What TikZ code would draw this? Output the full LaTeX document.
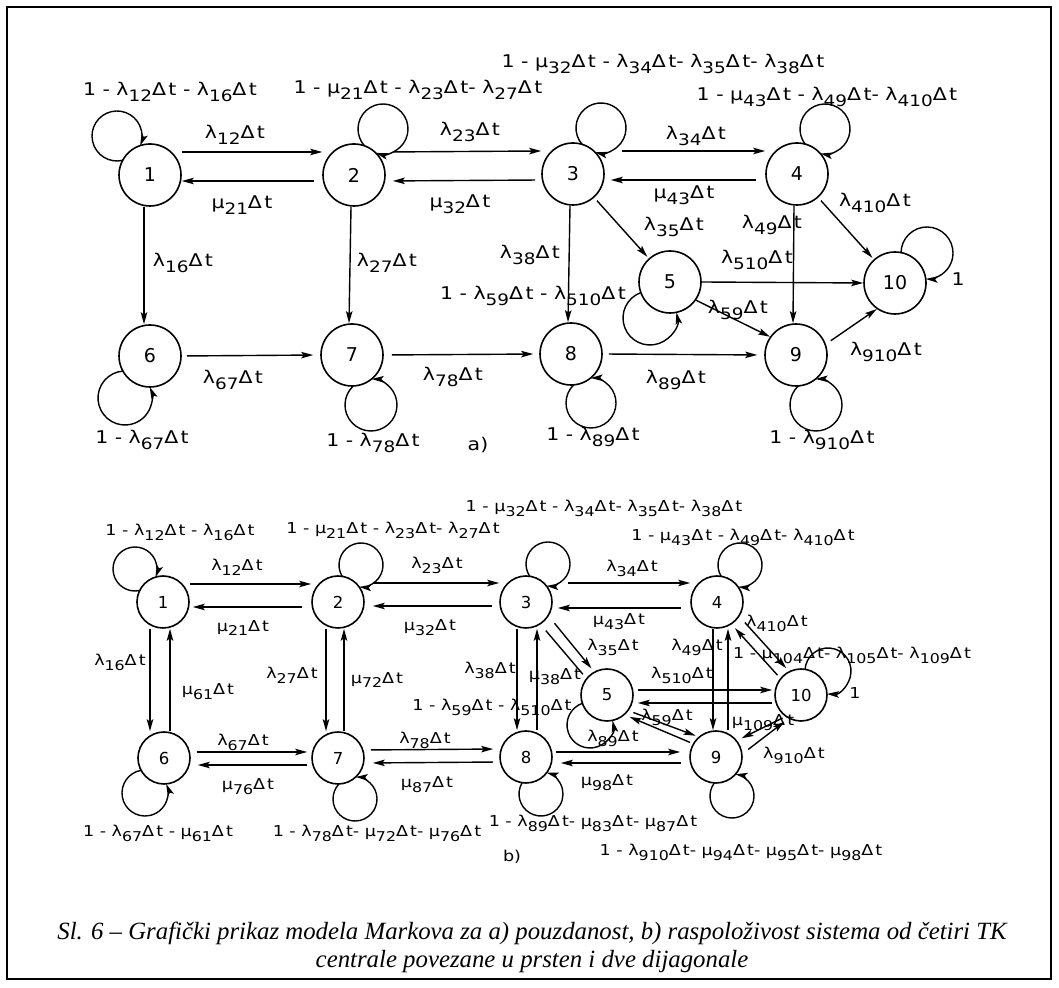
\documentclass[tikz,border=0pt]{standalone}
\usepackage{fontspec}
\setmainfont{DejaVu Sans}
\newfontfamily\capfont{Liberation Serif}
\usetikzlibrary{arrows.meta,calc}
\newcommand\sbx[1]{\raisebox{-0.6ex}{\scalebox{0.9}{#1}}}
\newcommand\lamt[1]{λ\sbx{#1}Δ\kern0.12em t}
\newcommand\mut[1]{μ\sbx{#1}Δ\kern0.12em t}
\newcommand\T[1]{\scalebox{1.17}[1]{#1}}
\newcommand\sloop[6]{%
  \pgfmathsetmacro\sldd{sqrt((#2)*(#2)+(#3)*(#3))}%
  \pgfmathsetmacro\slphi{atan2(-(#3),-(#2))}%
  \pgfmathsetmacro\slal{acos(((#4)*(#4)-(#6)*(#6)+\sldd*\sldd)/(2*\sldd*(#4)))}%
  \ifnum#5=1
    \pgfmathsetmacro\slsa{\slphi-\slal}\pgfmathsetmacro\slea{\slphi+\slal-360}%
  \else
    \pgfmathsetmacro\slsa{\slphi+\slal}\pgfmathsetmacro\slea{\slphi-\slal+360}%
  \fi
  \draw[arr] ($(#1)+(#2,#3)+(\slsa:#4)$) arc[start angle=\slsa, end angle=\slea, radius=#4];%
}
\begin{document}
\begin{tikzpicture}[x=1pt,y=1pt,
  st/.style={circle,draw,line width=1.6pt,inner sep=0pt,minimum size=62pt,font=\fontsize{19}{19}\selectfont},
  sb/.style={st,minimum size=52pt,font=\fontsize{16.5}{16.5}\selectfont},
  arr/.style={line width=1.4pt,-{Stealth[length=12pt,width=6.5pt,inset=2.5pt]}},
  pl/.style={line width=1.4pt},
  la/.style={inner sep=0pt,font=\fontsize{17.5}{17.5}\selectfont},
  lb/.style={inner sep=0pt,font=\fontsize{15}{15}\selectfont}]
\useasboundingbox (0,0) rectangle (1059,987);
\draw[line width=1.2pt] (7,8) rectangle (1051,980);

% ---------------- part a) ----------------
\node[st] (a1) at (150,812) {1};
\node[st] (a2) at (354,812) {2};
\node[st] (a3) at (573,813) {3};
\node[st] (a4) at (797,813) {4};
\node[st] (a5) at (670,705) {5};
\node[st] (a10) at (895,704) {10};
\node[st] (a6) at (150,631) {6};
\node[st] (a7) at (352,632) {7};
\node[st] (a8) at (571,633) {8};
\node[st] (a9) at (796,632) {9};

\draw[arr] ([yshift=23pt]a1.east) -- ([yshift=23pt]a2.west);
\draw[arr,shorten <=8pt] ([yshift=-6pt]a2.west) -- ([yshift=-6pt]a1.east);
\draw[arr,shorten <=7pt] ([yshift=23pt]a2.east) -- ([yshift=23pt]a3.west);
\draw[arr,shorten <=6pt,shorten >=7pt] ([yshift=-6pt]a3.west) -- ([yshift=-6pt]a2.east);
\draw[arr,shorten <=17pt] ([yshift=23pt]a3.east) -- ([yshift=23pt]a4.west);
\draw[arr,shorten <=9pt,shorten >=6pt] ([yshift=-6pt]a4.west) -- ([yshift=-6pt]a3.east);
\draw[arr] ([xshift=-6pt]a1.south) -- ([xshift=-6pt]a6.north);
\draw[arr] ([xshift=-3pt]a2.south) -- ([xshift=-3pt]a7.north);
\draw[arr] ([xshift=-3pt]a3.south) -- ([xshift=-3pt]a8.north);
\draw[arr] ([xshift=-3pt]a4.south) -- ([xshift=-3pt]a9.north);
\draw[arr,shorten <=4pt,shorten >=2pt] (a3) -- (a5);
\draw[arr,shorten <=4pt,shorten >=2pt] (a4) -- (a10);
\draw[arr] (a5.east) -- (a10.west);
\draw[arr] (a5.-35) -- (a9.145);
\draw[arr,shorten <=6pt] (a9.20) -- (a10.235);
\draw[arr,shorten <=5pt,shorten >=7pt] (a6.east) -- (a7.west);
\draw[arr,shorten <=8pt,shorten >=6pt] (a7.east) -- (a8.west);
\draw[arr,shorten <=6pt,shorten >=7pt] (a8.east) -- (a9.west);

\sloop{a1}{-33}{39}{25}{1}{31}
\sloop{a2}{29}{46}{25}{1}{31}
\sloop{a3}{28}{46}{25}{1}{31}
\sloop{a4}{28}{45}{25}{1}{31}
\sloop{a10}{32}{30}{26}{1}{31}
\sloop{a5}{-20}{-36}{27}{0}{31}
\sloop{a6}{-25}{-42}{27}{0}{31}
\sloop{a7}{19}{-50}{26}{0}{31}
\sloop{a8}{20}{-49}{25}{0}{31}
\sloop{a9}{20}{-50}{26}{0}{31}

\node[la] (l1) at (170,895) {\T{1 - \lamt{12} - \lamt{16}}};
\node[la] (l2) at (418,897) {\T{1 - \mut{21} - \lamt{23}- \lamt{27}}};
\node[la] (l3) at (663,923) {\T{1 - \mut{32} - \lamt{34}- \lamt{35}- \lamt{38}}};
\node[la] (l4) at (827,890) {\T{1 - \mut{43} - \lamt{49}- \lamt{410}}};
\node[la] (l5) at (235,852) {\T{\lamt{12}}};
\node[la] (l6) at (242,782) {\T{\mut{21}}};
\node[la] (l7) at (470,855) {\T{\lamt{23}}};
\node[la] (l8) at (460,783) {\T{\mut{32}}};
\node[la] (l9) at (696,851) {\T{\lamt{34}}};
\node[la] (l10) at (684,792) {\T{\mut{43}}};
\node[la] (l11) at (183,724) {\T{\lamt{16}}};
\node[la] (l12) at (387,724) {\T{\lamt{27}}};
\node[la] (l13) at (530,732) {\T{\lamt{38}}};
\node[la] (l14) at (674,760) {\T{\lamt{35}}};
\node[la] (l15) at (772,762) {\T{\lamt{49}}};
\node[la] (l16) at (875,784) {\T{\lamt{410}}};
\node[la] (l17) at (757,727) {\T{\lamt{510}}};
\node[la] (l18) at (958,708) {\T{1}};
\node[la] (l19) at (738,677) {\T{\lamt{59}}};
\node[la] (l20) at (886,635) {\T{\lamt{910}}};
\node[la] (l21) at (533,691) {\T{1 - \lamt{59} - \lamt{510}}};
\node[la] (l22) at (233,607) {\T{\lamt{67}}};
\node[la] (l23) at (453,610) {\T{\lamt{78}}};
\node[la] (l24) at (676,607) {\T{\lamt{89}}};
\node[la] (l25) at (142,547) {\T{1 - \lamt{67}}};
\node[la] (l26) at (373,544) {\T{1 - \lamt{78}}};
\node[la] (l27) at (593,550) {\T{1 - \lamt{89}}};
\node[la] (l28) at (822,547) {\T{1 - \lamt{910}}};
\node[la] (l29) at (478,542) {\T{a)}};

% ---------------- part b) ----------------
\node[sb] (b1) at (163,385) {1};
\node[sb] (b2) at (338,385) {2};
\node[sb] (b3) at (526,385) {3};
\node[sb] (b4) at (717,385) {4};
\node[sb] (b5) at (607,292) {5};
\node[sb] (b10) at (801,292) {10};
\node[sb] (b6) at (164,229) {6};
\node[sb] (b7) at (338,229) {7};
\node[sb] (b8) at (526,230) {8};
\node[sb] (b9) at (716,230) {9};

\draw[arr] ([yshift=18pt]b1.east) -- ([yshift=18pt]b2.west);
\draw[arr,shorten <=9pt,shorten >=3pt] ([yshift=-5pt]b2.west) -- ([yshift=-5pt]b1.east);
\draw[arr,shorten <=8pt] ([yshift=19pt]b2.east) -- ([yshift=19pt]b3.west);
\draw[arr,shorten <=7pt,shorten >=8pt] ([yshift=-4pt]b3.west) -- ([yshift=-4pt]b2.east);
\draw[arr,shorten <=15pt] ([yshift=19pt]b3.east) -- ([yshift=19pt]b4.west);
\draw[arr,shorten <=9pt,shorten >=5pt] ([yshift=-6pt]b4.west) -- ([yshift=-6pt]b3.east);
\draw[arr] ([xshift=-13pt]b1.south) -- ([xshift=-14pt]b6.north);
\draw[arr] ([xshift=6pt]b6.north) -- ([xshift=7pt]b1.south);
\draw[arr] ([xshift=-12pt]b2.south) -- ([xshift=-12pt]b7.north);
\draw[arr] ([xshift=6pt]b7.north) -- ([xshift=6pt]b2.south);
\draw[arr] ([xshift=-9pt]b3.south) -- ([xshift=-9pt]b8.north);
\draw[arr] ([xshift=11pt]b8.north) -- ([xshift=11pt]b3.south);
\draw[arr] ([xshift=-4pt]b4.south) -- ([xshift=-3pt]b9.north);
\draw[arr] ([xshift=12pt]b9.north) -- ([xshift=11pt]b4.south);
\draw[arr,shorten <=6pt,shorten >=4pt] ([yshift=6pt]b6.east) -- ([yshift=6pt]b7.west);
\draw[arr,shorten <=4pt,shorten >=7pt] ([yshift=-7pt]b7.west) -- ([yshift=-7pt]b6.east);
\draw[arr,shorten <=6pt,shorten >=6pt] ([yshift=8pt]b7.east) -- ([yshift=8pt]b8.west);
\draw[arr,shorten <=6pt,shorten >=8pt] ([yshift=-5pt]b8.west) -- ([yshift=-5pt]b7.east);
\draw[arr,shorten <=3pt,shorten >=9pt] ([yshift=5pt]b8.east) -- ([yshift=5pt]b9.west);
\draw[arr,shorten <=8pt,shorten >=8pt] ([yshift=-6pt]b9.west) -- ([yshift=-6pt]b8.east);
\draw[arr,shorten <=4pt,shorten >=2pt] ([yshift=5pt]b5.east) -- ([yshift=5pt]b10.west);
\draw[arr,shorten <=2pt,shorten >=4pt] ([yshift=-8pt]b10.west) -- ([yshift=-8pt]b5.east);
\draw[arr,shorten <=9pt,shorten >=4pt] (b3.-32) -- (b5.119);
\draw[pl,shorten <=8pt,shorten >=5pt] (b3.-57) -- (b5.141);
\draw[arr,shorten <=5pt,shorten >=3pt] (b5.-36) -- (b9.131);
\draw[arr,shorten <=3pt,shorten >=5pt] (b9.150) -- (b5.-48);
\draw[arr,shorten <=8pt,shorten >=4pt] (b4.-33) -- (b10.117);
\draw[arr,shorten <=4pt,shorten >=5pt] (b10.141) -- (b4.-57);
\draw[arr,shorten <=7pt,shorten >=5pt] (b9.7) -- (b10.-118);
\draw[arr,shorten <=3pt,shorten >=5pt] (b10.-126) -- (b9.38);

\sloop{b1}{-28}{33}{22}{1}{26}
\sloop{b2}{23}{37}{22}{1}{26}
\sloop{b3}{22}{38}{22}{1}{26}
\sloop{b4}{23}{37}{22}{1}{26}
\sloop{b10}{27}{24}{23}{1}{26}
\sloop{b5}{-17}{-30}{23}{0}{26}
\sloop{b6}{-19}{-35}{23}{0}{26}
\sloop{b7}{17}{-41}{22}{0}{26}
\sloop{b8}{15}{-37}{22}{0}{26}
\sloop{b9}{16}{-39}{22}{0}{26}

\node[lb] (m1) at (180,455) {\T{1 - \lamt{12} - \lamt{16}}};
\node[lb] (m2) at (393,457) {\T{1 - \mut{21} - \lamt{23}- \lamt{27}}};
\node[lb] (m3) at (604,479) {\T{1 - \mut{32} - \lamt{34}- \lamt{35}- \lamt{38}}};
\node[lb] (m4) at (743,450) {\T{1 - \mut{43} - \lamt{49}- \lamt{410}}};
\node[lb] (m5) at (237,420) {\T{\lamt{12}}};
\node[lb] (m6) at (243,359) {\T{\mut{21}}};
\node[lb] (m7) at (437,422) {\T{\lamt{23}}};
\node[lb] (m8) at (430,359) {\T{\mut{32}}};
\node[lb] (m9) at (632,419) {\T{\lamt{34}}};
\node[lb] (m10) at (619,365) {\T{\mut{43}}};
\node[lb] (m11) at (120,325) {\T{\lamt{16}}};
\node[lb] (m12) at (208,295) {\T{\mut{61}}};
\node[lb] (m13) at (292,312) {\T{\lamt{27}}};
\node[lb] (m14) at (377,307) {\T{\mut{72}}};
\node[lb] (m15) at (490,317) {\T{\lamt{38}}};
\node[lb] (m16) at (555,310) {\T{\mut{38}}};
\node[lb] (m17) at (613,340) {\T{\lamt{35}}};
\node[lb] (m18) at (697,340) {\T{\lamt{49}}};
\node[lb] (m19) at (777,364) {\T{\lamt{410}}};
\node[lb] (m20) at (852,332) {\T{1 - \mut{104}- \lamt{105}- \lamt{109}}};
\node[lb] (m21) at (855,294) {\T{1}};
\node[lb] (m22) at (682,312) {\T{\lamt{510}}};
\node[lb] (m23) at (492,280) {\T{1 - \lamt{59} - \lamt{510}}};
\node[lb] (m24) at (667,270) {\T{\lamt{59}}};
\node[lb] (m25) at (613,249) {\T{\lamt{89}}};
\node[lb] (m26) at (763,264) {\T{\mut{109}}};
\node[lb] (m27) at (794,232) {\T{\lamt{910}}};
\node[lb] (m28) at (243,245) {\T{\lamt{67}}};
\node[lb] (m29) at (248,200) {\T{\mut{76}}};
\node[lb] (m30) at (425,247) {\T{\lamt{78}}};
\node[lb] (m31) at (427,202) {\T{\mut{87}}};
\node[lb] (m32) at (607,204) {\T{\mut{98}}};
\node[lb] (m33) at (158,154) {\T{1 - \lamt{67} - \mut{61}}};
\node[lb] (m34) at (377,154) {\T{1 - \lamt{78}- \mut{72}- \mut{76}}};
\node[lb] (m35) at (593,164) {\T{1 - \lamt{89}- \mut{83}- \mut{87}}};
\node[lb] (m36) at (741,135) {\T{1 - \lamt{910}- \mut{94}- \mut{95}- \mut{98}}};
\node[lb] (m37) at (512,130) {\T{b)}};

\node[inner sep=0pt,align=center,font=\capfont\itshape\fontsize{24.8}{28}\selectfont] (cap) at (532,40)
  {Sl. 6 – Grafički prikaz modela Markova za a) pouzdanost, b) raspoloživost sistema od četiri TK\\
   centrale povezane u prsten i dve dijagonale};
\end{tikzpicture}
\end{document}
